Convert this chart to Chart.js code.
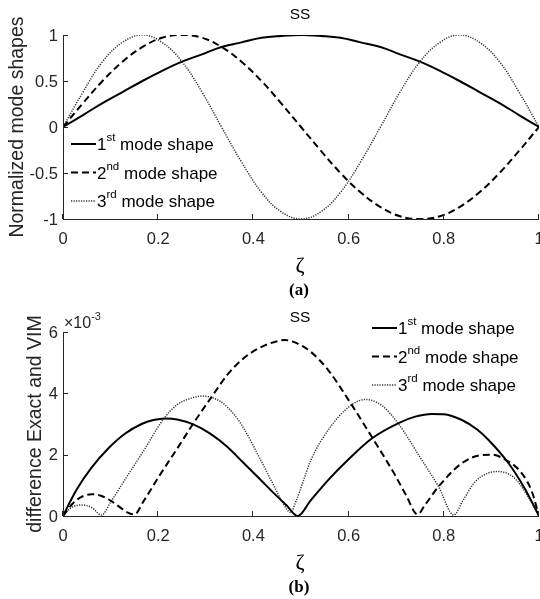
<!DOCTYPE html>
<html>
<head>
<meta charset="utf-8">
<script src="https://cdn.jsdelivr.net/npm/chart.js@4"></script>
<style>
  body { margin: 0; background: #fff; }
  .panel { position: absolute; left: 0; width: 540px; }
</style>
</head>
<body>
<div class="panel" style="top:0;height:300px"><canvas id="modeChart" width="540" height="300"></canvas></div>
<div class="panel" style="top:300px;height:299px"><canvas id="diffChart" width="540" height="299"></canvas></div>
<script>
// (a) normalized mode shapes
const zeta = [0, 0.042, 0.083, 0.125, 0.167, 0.208, 0.25, 0.292, 0.333, 0.375, 0.417, 0.458, 0.5,
  0.542, 0.583, 0.625, 0.667, 0.708, 0.75, 0.792, 0.833, 0.875, 0.917, 0.958, 1];
const mode1 = [0, 0.13, 0.26, 0.38, 0.5, 0.61, 0.71, 0.79, 0.87, 0.92, 0.97, 0.99, 1,
  0.99, 0.97, 0.92, 0.87, 0.79, 0.71, 0.61, 0.5, 0.38, 0.26, 0.13, 0];
const mode2 = [0, 0.26, 0.5, 0.71, 0.87, 0.97, 1, 0.97, 0.87, 0.71, 0.5, 0.26, 0,
  -0.26, -0.5, -0.71, -0.87, -0.97, -1, -0.97, -0.87, -0.71, -0.5, -0.26, 0];
const mode3 = [0, 0.38, 0.71, 0.92, 1, 0.92, 0.71, 0.38, 0, -0.38, -0.71, -0.92, -1,
  -0.92, -0.71, -0.38, 0, 0.38, 0.71, 0.92, 1, 0.92, 0.71, 0.38, 0];

// (b) difference exact vs VIM, values in units of 1e-3
const diffZeta1 = [0, 0.015, 0.03, 0.06, 0.095, 0.13, 0.165, 0.19, 0.215, 0.24, 0.275, 0.31, 0.345, 0.38, 0.415, 0.444, 0.47, 0.493,
  0.52, 0.557, 0.6, 0.648, 0.705, 0.74, 0.775, 0.8, 0.838, 0.87, 0.894, 0.936, 0.97, 0.985, 1];
const diff1 = [0, 0.47, 0.9, 1.58, 2.2, 2.68, 3.0, 3.13, 3.18, 3.15, 2.98, 2.68, 2.26, 1.72, 1.18, 0.73, 0.34, 0,
  0.5, 1.17, 1.85, 2.52, 3.03, 3.24, 3.33, 3.32, 3.13, 2.82, 2.48, 1.72, 0.9, 0.46, 0];

const diffZeta2 = [0, 0.02, 0.04, 0.06, 0.08, 0.1, 0.12, 0.135, 0.15, 0.17, 0.204, 0.24, 0.273, 0.313, 0.345, 0.38, 0.415,
  0.45, 0.465, 0.487, 0.52, 0.557, 0.6, 0.648, 0.697, 0.72, 0.745, 0.76, 0.789, 0.838, 0.88, 0.9, 0.922, 0.964, 0.985, 1];
const diff2 = [0, 0.4, 0.63, 0.71, 0.66, 0.5, 0.28, 0.12, 0.05, 0.5, 1.35, 2.2, 3.0, 3.9, 4.6, 5.15, 5.5,
  5.7, 5.74, 5.66, 5.36, 4.76, 3.78, 2.6, 1.35, 0.7, 0.05, 0.35, 0.96, 1.72, 1.99, 2.0, 1.9, 1.39, 0.8, 0];

const diffZeta3 = [0, 0.015, 0.039, 0.06, 0.081, 0.1, 0.134, 0.17, 0.211, 0.239, 0.265, 0.292, 0.331, 0.36, 0.38, 0.415,
  0.444, 0.461, 0.478, 0.49, 0.505, 0.521, 0.557, 0.6, 0.635, 0.67, 0.705, 0.754, 0.789, 0.821, 0.84, 0.865, 0.89, 0.914,
  0.949, 0.977, 1];
const diff3 = [0, 0.25, 0.36, 0.28, 0.03, 0.45, 1.28, 2.14, 3.16, 3.62, 3.82, 3.91, 3.73, 3.3, 2.85, 1.83,
  0.96, 0.45, 0.12, 0.5, 1.15, 1.83, 2.8, 3.55, 3.8, 3.6, 3.0, 1.82, 0.96, 0.03, 0.5, 1.1, 1.38, 1.45,
  1.23, 0.63, 0];

const xTicks = [0, 0.2, 0.4, 0.6, 0.8, 1];
const modeYTicks = [-1, -0.5, 0, 0.5, 1];
const modeYLabels = ['-1', '-0.5', '0', '0.5', '1'];
const diffYTicks = [0, 2, 4, 6];
const diffYLabels = ['0', '2', '4', '6'];
const legendNames = [['1', 'st'], ['2', 'nd'], ['3', 'rd']];

const SANS = "'Liberation Sans', Arial, sans-serif";
const SERIF = "'Liberation Serif', 'Times New Roman', serif";
const INK = '#262626';

const lineStyles = [
  { color: '#000', width: 2, dash: [] },
  { color: '#000', width: 2, dash: [7, 4] },
  { color: '#333', width: 1.5, dash: [1.2, 1.3] }
];

function pts(xs, ys) {
  return xs.map((x, i) => ({ x: x, y: ys[i] }));
}

function makeSet(data, i, smooth) {
  const s = lineStyles[i];
  const set = {
    data: data,
    borderColor: s.color,
    borderWidth: s.width,
    borderDash: s.dash,
    pointRadius: 0,
    fill: false
  };
  if (smooth === 'monotone') set.cubicInterpolationMode = 'monotone';
  else set.tension = 0.4;
  return set;
}

function drawLegend(ctx, x0, rows) {
  rows.forEach((y, i) => {
    const s = lineStyles[i];
    ctx.save();
    ctx.strokeStyle = s.color;
    ctx.lineWidth = s.width;
    ctx.setLineDash(s.dash);
    ctx.beginPath();
    ctx.moveTo(x0, y);
    ctx.lineTo(x0 + 25, y);
    ctx.stroke();
    ctx.restore();

    let x = x0 + 26;
    ctx.fillStyle = '#000';
    ctx.textAlign = 'left';
    ctx.textBaseline = 'alphabetic';
    ctx.font = '17px ' + SANS;
    ctx.fillText(legendNames[i][0], x, y + 6);
    x += ctx.measureText(legendNames[i][0]).width;
    ctx.font = '11.5px ' + SANS;
    ctx.fillText(legendNames[i][1], x, y - 3);
    x += ctx.measureText(legendNames[i][1]).width;
    ctx.font = '17px ' + SANS;
    ctx.fillText(' mode shape', x, y + 6);
  });
}

// axes with inward ticks, titles, captions and legend, MATLAB style
const figureDecor = {
  id: 'figureDecor',
  afterDraw(chart, args, o) {
    const ctx = chart.ctx;
    const { left, right, top, bottom } = chart.chartArea;
    const xs = chart.scales.x, ys = chart.scales.y;
    ctx.save();

    ctx.strokeStyle = INK;
    ctx.lineWidth = 1;
    ctx.beginPath();
    ctx.moveTo(left + 0.5, top);
    ctx.lineTo(left + 0.5, bottom + 0.5);
    ctx.lineTo(right, bottom + 0.5);
    xs.ticks.forEach(t => {
      const px = Math.round(xs.getPixelForValue(t.value)) - 0.5;
      ctx.moveTo(px, bottom);
      ctx.lineTo(px, bottom - 5);
    });
    ys.ticks.forEach(t => {
      const py = Math.round(ys.getPixelForValue(t.value)) + 0.5;
      ctx.moveTo(left, py);
      ctx.lineTo(left + 5, py);
    });
    ctx.stroke();

    // y tick labels
    ctx.fillStyle = INK;
    ctx.textAlign = 'right';
    ctx.textBaseline = 'middle';
    ctx.font = '16.5px ' + SANS;
    o.yTicks.forEach((v, i) => {
      ctx.fillText(o.yLabels[i], left - 5, ys.getPixelForValue(v) + 1);
    });

    ctx.fillStyle = '#000';
    ctx.textAlign = 'center';
    ctx.font = '15.5px ' + SANS;
    ctx.fillText('SS', 300, o.titleY);

    ctx.save();
    ctx.fillStyle = INK;
    ctx.font = '19.5px ' + SANS;
    ctx.translate(o.yTitleX, (top + bottom) / 2);
    ctx.rotate(-Math.PI / 2);
    ctx.fillText(o.yTitle, 0, 0);
    ctx.restore();

    ctx.fillStyle = '#000';
    ctx.font = '22px ' + SERIF;
    ctx.fillText('\u03B6', 300, bottom + 47);
    ctx.font = 'bold 17px ' + SERIF;
    ctx.fillText(o.caption, 299, bottom + 72);

    if (o.exponent) {
      ctx.fillStyle = INK;
      ctx.textAlign = 'left';
      ctx.textBaseline = 'alphabetic';
      ctx.font = '16px ' + SANS;
      ctx.fillText('\u00D710', 64, top - 4);
      const w = ctx.measureText('\u00D710').width;
      ctx.font = '11px ' + SANS;
      ctx.fillText('-3', 64 + w, top - 12);
    }

    drawLegend(ctx, o.legendX, o.legendRows);
    ctx.restore();
  }
};

function axisOptions(yMin, yMax, yTicks, topPad, xHeight) {
  return {
    responsive: false,
    animation: false,
    layout: { padding: { left: 0, right: 1, top: topPad, bottom: 0 } },
    plugins: { legend: { display: false }, tooltip: { enabled: false } },
    scales: {
      x: {
        type: 'linear', min: 0, max: 1,
        grid: { display: false }, border: { display: false },
        afterBuildTicks: s => { s.ticks = xTicks.map(v => ({ value: v })); },
        afterFit: s => { s.height = xHeight; s.paddingLeft = 0; s.paddingRight = 0; },
        ticks: { color: INK, padding: 3, font: { family: SANS, size: 16.5 }, callback: v => String(v) }
      },
      y: {
        type: 'linear', min: yMin, max: yMax,
        grid: { display: false }, border: { display: false },
        afterBuildTicks: s => { s.ticks = yTicks.map(v => ({ value: v })); },
        afterFit: s => { s.width = 63; s.paddingTop = 0; s.paddingBottom = 0; },
        ticks: { display: false }
      }
    }
  };
}

const modeOpts = axisOptions(-1, 1, modeYTicks, 35, 81);
modeOpts.plugins.figureDecor = {
  titleY: 15, yTitle: 'Normalized mode shapes', yTitleX: 18, caption: '(a)',
  yTicks: modeYTicks, yLabels: modeYLabels,
  exponent: false, legendX: 71, legendRows: [144, 172.5, 201]
};
new Chart(document.getElementById('modeChart').getContext('2d'), {
  type: 'line',
  data: { datasets: [makeSet(pts(zeta, mode1), 0), makeSet(pts(zeta, mode2), 1), makeSet(pts(zeta, mode3), 2)] },
  options: modeOpts,
  plugins: [figureDecor]
});

const diffOpts = axisOptions(0, 6, diffYTicks, 32, 83);
diffOpts.plugins.figureDecor = {
  titleY: 18, yTitle: 'difference Exact and VIM', yTitleX: 36, caption: '(b)',
  yTicks: diffYTicks, yLabels: diffYLabels,
  exponent: true, legendX: 372, legendRows: [28, 56.5, 85]
};
new Chart(document.getElementById('diffChart').getContext('2d'), {
  type: 'line',
  data: { datasets: [
    makeSet(pts(diffZeta1, diff1), 0, 'monotone'),
    makeSet(pts(diffZeta2, diff2), 1, 'monotone'),
    makeSet(pts(diffZeta3, diff3), 2, 'monotone')
  ] },
  options: diffOpts,
  plugins: [figureDecor]
});
</script>
</body>
</html>
